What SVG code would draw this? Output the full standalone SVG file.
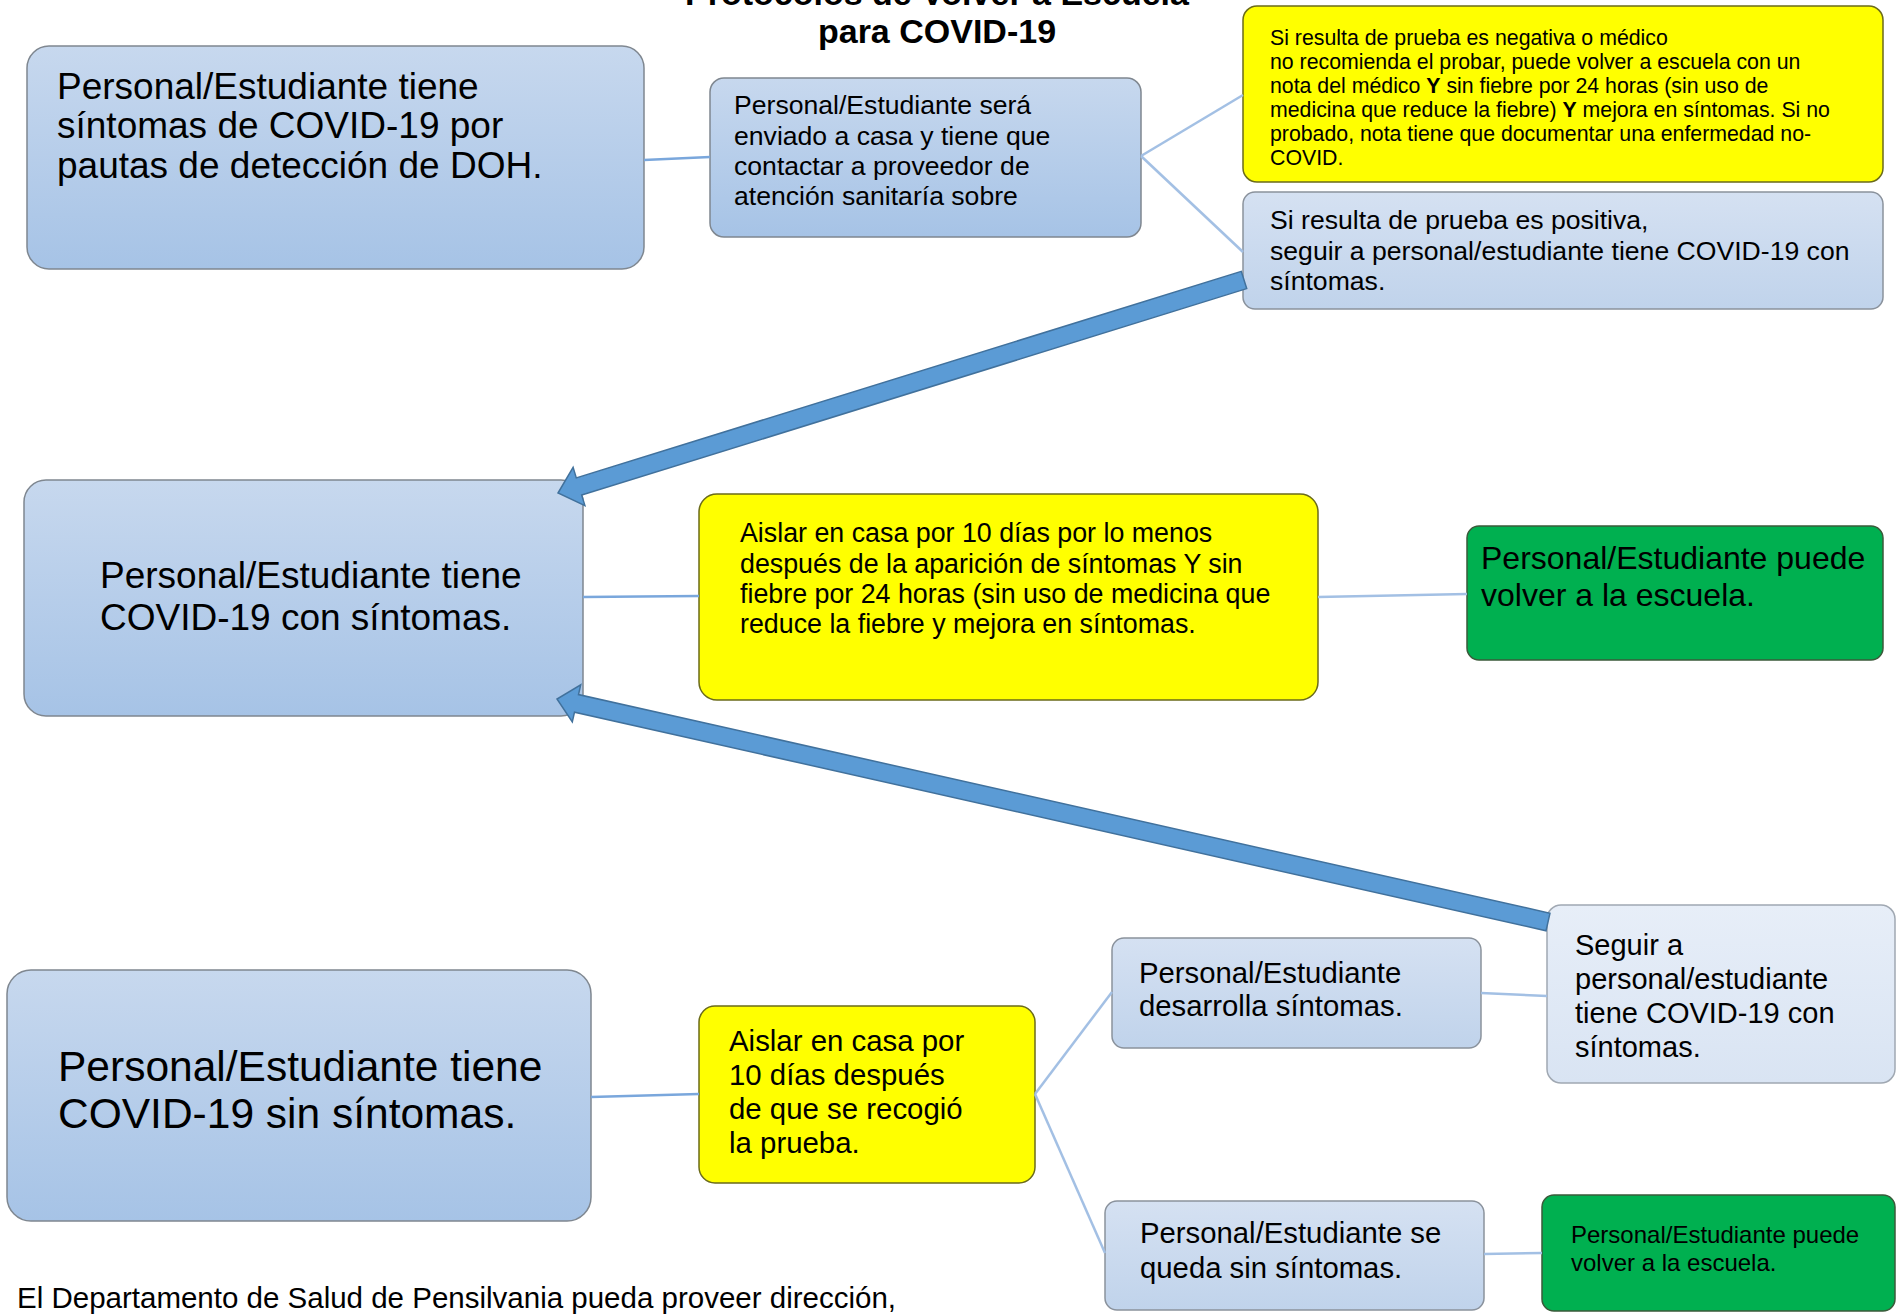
<svg xmlns="http://www.w3.org/2000/svg" width="1902" height="1314" viewBox="0 0 1902 1314">
<defs>
  <linearGradient id="gBlue" x1="0" y1="0" x2="0" y2="1">
    <stop offset="0" stop-color="#c7d8ee"/>
    <stop offset="1" stop-color="#a6c3e6"/>
  </linearGradient>
  <linearGradient id="gLight" x1="0" y1="0" x2="0" y2="1">
    <stop offset="0" stop-color="#d5e1f2"/>
    <stop offset="1" stop-color="#c0d3eb"/>
  </linearGradient>
  <linearGradient id="gPale" x1="0" y1="0" x2="0" y2="1">
    <stop offset="0" stop-color="#e7eef8"/>
    <stop offset="1" stop-color="#d9e4f3"/>
  </linearGradient>
</defs>
<style>
  text { font-family: "Liberation Sans", Arial, sans-serif; fill: #000; }
  .blue { fill: url(#gBlue); stroke: #7f8790; stroke-width: 1.5; }
  .light { fill: url(#gLight); stroke: #8a929c; stroke-width: 1.5; }
  .pale { fill: url(#gPale); stroke: #a0a8b2; stroke-width: 1.5; }
  .yellow { fill: #ffff00; stroke: #6b6b1a; stroke-width: 1.5; }
  .green { fill: #00b050; stroke: #3a5a3a; stroke-width: 1.5; }
  .line { stroke: #a3c0e4; stroke-width: 2.5; fill: none; }
  .line1 { stroke: #7aa7dc; stroke-width: 2.5; fill: none; }
  .barrow { fill: #5b9bd5; stroke: #41719c; stroke-width: 1.5; stroke-linejoin: miter; }
  .title { font-weight: bold; font-size: 34px; text-anchor: middle; }
</style>

<g id="title">
  <text class="title" x="937" y="5">Protocolos de Volver a Escuela</text>
  <text class="title" x="937" y="43">para COVID-19</text>
</g>

<g id="node-sintomas">
  <rect class="blue" x="27" y="46" width="617" height="223" rx="22"/>
  <text font-size="37"><tspan x="57" y="99">Personal/Estudiante tiene</tspan><tspan x="57" y="138">síntomas de COVID-19 por</tspan><tspan x="57" y="178">pautas de detección de DOH.</tspan></text>
</g>

<g id="node-enviado">
  <rect class="blue" x="710" y="78" width="431" height="159" rx="14"/>
  <text font-size="26.6"><tspan x="734" y="114">Personal/Estudiante será</tspan><tspan x="734" y="145">enviado a casa y tiene que</tspan><tspan x="734" y="175">contactar a proveedor de</tspan><tspan x="734" y="205">atención sanitaría sobre</tspan></text>
</g>

<g id="node-negativa">
  <rect class="yellow" x="1243" y="6" width="640" height="176" rx="14"/>
  <text font-size="21.3"><tspan x="1270" y="45">Si resulta de prueba es negativa o médico</tspan><tspan x="1270" y="69">no recomienda el probar, puede volver a escuela con un</tspan><tspan x="1270" y="93">nota del médico <tspan font-weight="bold">Y</tspan> sin fiebre por 24 horas (sin uso de</tspan><tspan x="1270" y="117">medicina que reduce la fiebre) <tspan font-weight="bold">Y</tspan> mejora en síntomas. Si no</tspan><tspan x="1270" y="141">probado, nota tiene que documentar una enfermedad no-</tspan><tspan x="1270" y="165">COVID.</tspan></text>
</g>

<g id="node-positiva">
  <rect class="light" x="1243" y="192" width="640" height="117" rx="12"/>
  <text font-size="26.6"><tspan x="1270" y="229">Si resulta de prueba es positiva,</tspan><tspan x="1270" y="260">seguir a personal/estudiante tiene COVID-19 con</tspan><tspan x="1270" y="290">síntomas.</tspan></text>
</g>

<g id="node-con-sintomas">
  <rect class="blue" x="24" y="480" width="559" height="236" rx="22"/>
  <text font-size="37"><tspan x="100" y="588">Personal/Estudiante tiene</tspan><tspan x="100" y="630">COVID-19 con síntomas.</tspan></text>
</g>

<g id="node-aislar10">
  <rect class="yellow" x="699" y="494" width="619" height="206" rx="18"/>
  <text font-size="26.8"><tspan x="740" y="542">Aislar en casa por 10 días por lo menos</tspan><tspan x="740" y="573">después de la aparición de síntomas Y sin</tspan><tspan x="740" y="603">fiebre por 24 horas (sin uso de medicina que</tspan><tspan x="740" y="633">reduce la fiebre y mejora en síntomas.</tspan></text>
</g>

<g id="node-volver1">
  <rect class="green" x="1467" y="526" width="416" height="134" rx="12"/>
  <text font-size="32"><tspan x="1481" y="569">Personal/Estudiante puede</tspan><tspan x="1481" y="606">volver a la escuela.</tspan></text>
</g>

<g id="node-sin-sintomas">
  <rect class="blue" x="7" y="970" width="584" height="251" rx="24"/>
  <text font-size="42.5"><tspan x="58" y="1081">Personal/Estudiante tiene</tspan><tspan x="58" y="1128">COVID-19 sin síntomas.</tspan></text>
</g>

<g id="node-aislar-prueba">
  <rect class="yellow" x="699" y="1006" width="336" height="177" rx="16"/>
  <text font-size="29.4"><tspan x="729" y="1051">Aislar en casa por</tspan><tspan x="729" y="1085">10 días después</tspan><tspan x="729" y="1119">de que se recogió</tspan><tspan x="729" y="1153">la prueba.</tspan></text>
</g>

<g id="node-desarrolla">
  <rect class="light" x="1112" y="938" width="369" height="110" rx="12"/>
  <text font-size="29.3"><tspan x="1139" y="983">Personal/Estudiante</tspan><tspan x="1139" y="1016">desarrolla síntomas.</tspan></text>
</g>

<g id="node-seguir">
  <rect class="pale" x="1547" y="905" width="348" height="178" rx="14"/>
  <text font-size="29"><tspan x="1575" y="955">Seguir a</tspan><tspan x="1575" y="989">personal/estudiante</tspan><tspan x="1575" y="1023">tiene COVID-19 con</tspan><tspan x="1575" y="1057">síntomas.</tspan></text>
</g>

<g id="node-queda">
  <rect class="light" x="1105" y="1201" width="379" height="109" rx="12"/>
  <text font-size="29.3"><tspan x="1140" y="1243">Personal/Estudiante se</tspan><tspan x="1140" y="1278">queda sin síntomas.</tspan></text>
</g>

<g id="node-volver2">
  <rect class="green" x="1542" y="1195" width="353" height="116" rx="12"/>
  <text font-size="24"><tspan x="1571" y="1243">Personal/Estudiante puede</tspan><tspan x="1571" y="1271">volver a la escuela.</tspan></text>
</g>

<g id="footer">
  <text font-size="29.5" x="17" y="1308">El Departamento de Salud de Pensilvania pueda proveer dirección,</text>
</g>

<g id="connectors">
  <line class="line1" x1="644" y1="160" x2="710" y2="157"/>
  <line class="line" x1="1141" y1="156" x2="1243" y2="95"/>
  <line class="line" x1="1141" y1="156" x2="1243" y2="252"/>
  <line class="line1" x1="583" y1="597" x2="699" y2="596"/>
  <line class="line" x1="1318" y1="597" x2="1467" y2="594"/>
  <line class="line1" x1="591" y1="1097" x2="699" y2="1094"/>
  <line class="line" x1="1035" y1="1094" x2="1112" y2="992"/>
  <line class="line" x1="1035" y1="1094" x2="1105" y2="1253"/>
  <line class="line" x1="1481" y1="993" x2="1547" y2="996"/>
  <line class="line" x1="1484" y1="1254" x2="1542" y2="1253"/>
  <polygon class="barrow" points="1241.3,271.4 1246.7,288.6 581.7,495.1 584.9,505.6 558,493 573.1,467.4 576.3,477.9"/>
  <polygon class="barrow" points="1550,913.2 1546,930.8 574.5,712.2 572.3,721.9 557,699 580.7,684.9 578.5,694.6"/>
</g>
</svg>
